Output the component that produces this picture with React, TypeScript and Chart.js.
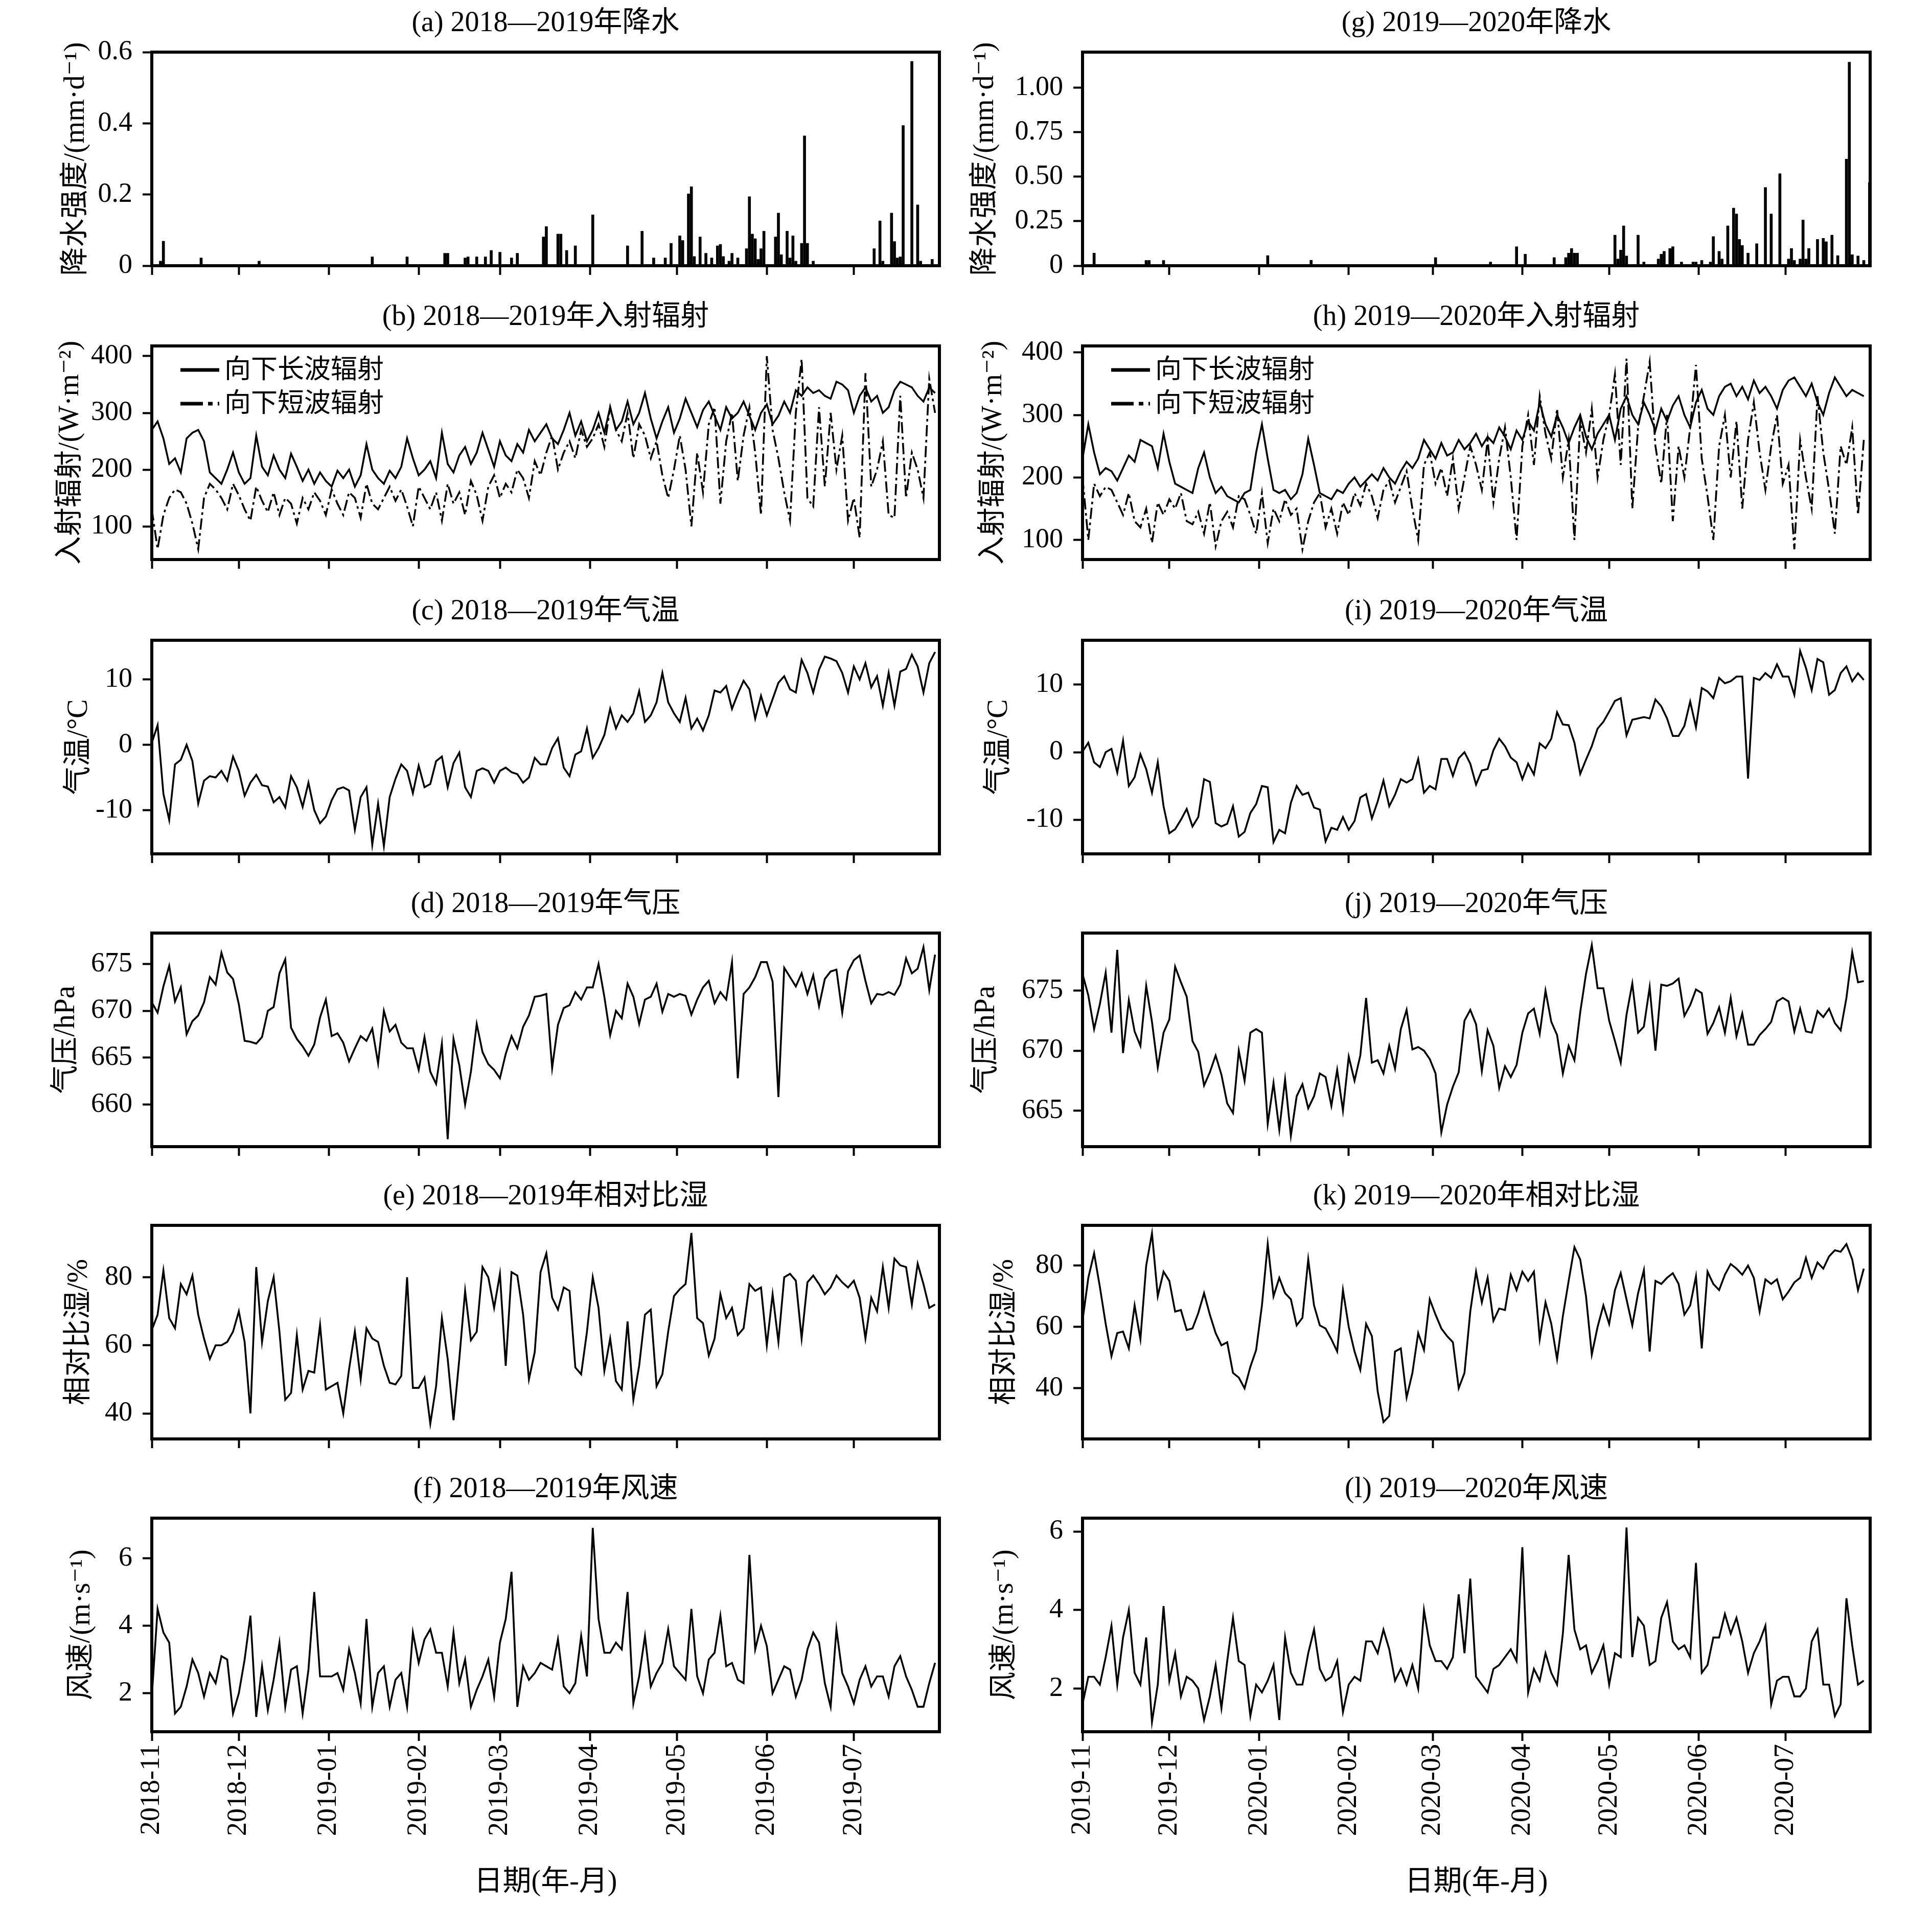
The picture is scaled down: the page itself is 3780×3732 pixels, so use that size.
import React, { useEffect, useRef } from 'react';
import { Chart, registerables } from 'chart.js';

Chart.register(...registerables);

const FONT = "'Liberation Serif', 'DejaVu Serif', 'Noto Sans CJK SC', serif";
const DAY_STEP = 2;

// month ticks (day index from 1 Nov)
const MONTH_TICKS_1 = [0, 30, 61, 92, 120, 151, 181, 212, 242];
const MONTH_LABELS_1 = ['2018-11', '2018-12', '2019-01', '2019-02', '2019-03', '2019-04', '2019-05', '2019-06', '2019-07'];
const MONTH_TICKS_2 = [0, 30, 61, 92, 121, 152, 182, 213, 243];
const MONTH_LABELS_2 = ['2019-11', '2019-12', '2020-01', '2020-02', '2020-03', '2020-04', '2020-05', '2020-06', '2020-07'];

// ---- precipitation (sparse daily bars) ----
const PRECIP_A_DAYS = [3, 4, 17, 37, 76, 88, 101, 102, 108, 109, 112, 115, 117, 120, 124, 126, 135, 136, 140, 141, 143, 146, 152, 164, 169, 173, 177, 179, 182, 183, 185, 186, 187, 189, 191, 193, 195, 196, 197, 199, 200, 202, 205, 206, 207, 208, 209, 210, 211, 215, 216, 217, 219, 220, 221, 222, 224, 225, 226, 228, 249, 251, 252, 255, 256, 257, 258, 259, 262, 264, 265, 269];
const PRECIP_A_VALUES = [0.013, 0.069, 0.022, 0.013, 0.025, 0.025, 0.035, 0.035, 0.022, 0.025, 0.025, 0.025, 0.043, 0.038, 0.022, 0.035, 0.081, 0.110, 0.089, 0.089, 0.043, 0.056, 0.143, 0.056, 0.097, 0.022, 0.022, 0.063, 0.084, 0.071, 0.202, 0.222, 0.026, 0.081, 0.035, 0.022, 0.056, 0.060, 0.026, 0.013, 0.035, 0.022, 0.048, 0.194, 0.089, 0.076, 0.018, 0.048, 0.097, 0.081, 0.148, 0.031, 0.097, 0.022, 0.084, 0.013, 0.063, 0.365, 0.063, 0.013, 0.048, 0.126, 0.013, 0.148, 0.068, 0.022, 0.025, 0.394, 0.574, 0.171, 0.013, 0.018];

const PRECIP_G_DAYS = [4, 22, 23, 28, 64, 79, 122, 141, 150, 153, 163, 167, 168, 169, 170, 171, 184, 185, 186, 187, 188, 192, 194, 199, 200, 201, 203, 204, 207, 211, 212, 214, 217, 218, 220, 221, 223, 225, 226, 227, 228, 230, 233, 236, 238, 241, 244, 245, 246, 248, 249, 250, 251, 254, 256, 257, 259, 261, 264, 265, 266, 268, 270, 272];
const PRECIP_G_VALUES = [0.071, 0.03, 0.03, 0.03, 0.057, 0.031, 0.046, 0.021, 0.107, 0.065, 0.046, 0.046, 0.071, 0.097, 0.071, 0.071, 0.172, 0.038, 0.088, 0.224, 0.055, 0.172, 0.021, 0.038, 0.065, 0.081, 0.097, 0.107, 0.021, 0.021, 0.021, 0.03, 0.021, 0.164, 0.081, 0.038, 0.224, 0.324, 0.291, 0.148, 0.114, 0.071, 0.124, 0.44, 0.291, 0.517, 0.038, 0.097, 0.03, 0.038, 0.257, 0.038, 0.097, 0.148, 0.154, 0.135, 0.172, 0.057, 0.599, 1.144, 0.062, 0.055, 0.03, 0.467];

// ---- radiation (W m-2), every 2 days ----
const LW_2018 = [270, 285, 255, 210, 220, 195, 255, 265, 270, 250, 195, 185, 175, 200, 230, 195, 175, 185, 260, 205, 190, 225, 200, 185, 228, 205, 180, 200, 175, 195, 180, 170, 198, 185, 200, 170, 190, 245, 200, 185, 175, 198, 185, 205, 255, 220, 190, 200, 215, 185, 265, 210, 195, 225, 240, 210, 230, 265, 235, 205, 250, 225, 215, 245, 230, 270, 250, 265, 280, 255, 245, 270, 300, 260, 285, 250, 270, 300, 265, 310, 270, 285, 320, 280, 300, 335, 290, 255, 285, 310, 265, 290, 325, 300, 275, 305, 320, 295, 270, 310, 290, 300, 320, 295, 270, 300, 315, 280, 295, 320, 300, 340, 330, 345, 335, 340, 330, 325, 355, 350, 340, 300, 330, 345, 320, 330, 300, 310, 340, 355, 350, 345, 330, 320, 345, 335];
const SW_2018 = [130, 60, 120, 150, 165, 160, 140, 105, 60, 150, 175, 165, 150, 130, 175, 155, 130, 110, 170, 145, 125, 160, 120, 150, 140, 105, 150, 130, 160, 145, 120, 165, 140, 120, 160, 150, 115, 175, 140, 130, 150, 170, 145, 165, 135, 100, 170, 150, 130, 160, 110, 175, 140, 160, 120, 180, 155, 110, 170, 190, 150, 175, 160, 200, 185, 150, 215, 190, 230, 260, 200, 230, 250, 220, 270, 240, 255, 280, 240, 310, 270, 250, 300, 220, 280, 260, 220, 250, 190, 150, 200, 260, 200, 100, 230, 160, 280, 310, 140, 250, 300, 180, 260, 310, 230, 120, 400, 270, 220, 160, 110, 300, 395, 150, 135, 310, 170, 300, 200, 260, 110, 150, 80, 370, 170, 200, 250, 120, 115, 330, 150, 230, 200, 150, 360, 300];
const LW_2019 = [230, 285, 240, 205, 215, 210, 195, 215, 235, 225, 260, 255, 250, 215, 270, 225, 190, 185, 180, 175, 215, 240, 200, 175, 185, 170, 165, 160, 175, 180, 240, 285, 230, 180, 175, 180, 165, 175, 205, 262, 220, 175, 170, 165, 180, 175, 190, 200, 185, 195, 205, 195, 215, 200, 190, 210, 225, 215, 230, 260, 245, 230, 255, 235, 240, 260, 245, 255, 270, 250, 265, 255, 280, 265, 245, 275, 260, 290, 275, 320, 285, 265, 300, 280, 255, 280, 300, 265, 245, 270, 285, 300, 260, 310, 330, 300, 285, 320, 300, 275, 310, 290, 315, 330, 300, 280, 320, 340, 310, 300, 330, 345, 350, 330, 345, 325, 355, 335, 345, 330, 310, 340, 355, 360, 345, 330, 350, 320, 300, 335, 360, 345, 330, 340, 335, 330];
const SW_2019 = [200, 100, 190, 170, 185, 180, 160, 140, 175, 130, 120, 150, 95, 160, 140, 165, 150, 175, 130, 125, 145, 110, 160, 90, 130, 145, 120, 170, 165, 140, 110, 175, 95, 150, 130, 165, 140, 150, 85, 130, 160, 175, 120, 150, 110, 160, 140, 175, 155, 190, 170, 135, 180, 195, 160, 185, 210, 150, 100, 220, 240, 190, 215, 170, 230, 150, 200, 250, 220, 180, 260, 160, 230, 280, 200, 100, 250, 300, 220, 330, 270, 230, 310, 200, 260, 100, 290, 240, 310, 200, 260, 300, 365, 220, 390, 150, 280, 330, 385, 250, 190, 300, 130, 250, 200, 280, 380, 230, 170, 100, 250, 300, 200, 290, 150, 260, 320, 240, 180, 250, 300, 190, 220, 85, 260, 200, 150, 330, 240, 180, 110, 250, 220, 280, 140, 260];

// ---- air temperature (°C), every 2 days ----
const TEMP_2018 = [0.3, 3, -7.5, -11.5, -3, -2.3, 0, -2.5, -9, -5.5, -4.8, -5, -4, -5.5, -1.8, -4, -7.8, -5.8, -4.6, -6.2, -6.4, -8.8, -8, -9.6, -4.8, -6.5, -9.5, -5.8, -10, -12, -11, -8.5, -6.8, -6.5, -7, -13, -8, -6.5, -15.3, -9, -15.5, -8, -5.2, -3, -4, -7.4, -3.2, -6.5, -6, -2.5, -1.8, -6.5, -2.8, -1.2, -6.5, -8, -4, -3.6, -4, -5.8, -4, -3.5, -4.2, -4.5, -5.8, -5, -2, -3, -3, -0.5, 1, -3.5, -4.8, -1.5, -1, 2.5, -2, -0.5, 1.5, 5.5, 2.5, 4.5, 3.5, 4.8, 8.2, 3.5, 4.5, 6.5, 11, 6.5, 4.8, 3.5, 7.2, 2.5, 4, 2.2, 4.5, 8.3, 8, 9, 5.5, 7.8, 9.8, 8.5, 4, 7.5, 4.5, 7, 9.5, 10.5, 8.5, 8, 13, 11, 8, 11.5, 13.5, 13.2, 12.8, 11, 8, 12, 10, 12.5, 8.8, 10.5, 6, 11, 6, 11.2, 11.6, 13.8, 12, 8, 12.5, 14.2];
const TEMP_2019 = [0.1, 1.4, -1.5, -2.2, 0, 0.5, -3, 1.7, -5, -3.7, -0.3, -2.5, -6, -1.5, -8, -12, -11.4, -10, -8.4, -11, -9.6, -4, -4.4, -10.5, -11, -10.6, -8, -12.5, -11.8, -9, -7.7, -5, -5.2, -13.3, -11.5, -12, -7.5, -5, -6.3, -6, -8.2, -8.5, -13.2, -11.2, -11.5, -9.6, -11.5, -10.2, -6.7, -6.2, -9.8, -7.3, -4.2, -8, -6.3, -4, -4.5, -4, -1, -6, -5, -5.5, -1, -1, -3.5, -0.9, 0, -1.7, -4.8, -2.7, -2.5, 0.3, 2, 0.9, -0.8, -1.5, -4, -1.7, -3.3, 1.3, 0.6, 2, 5.9, 4.1, 4, 1.4, -3.2, -1.1, 0.9, 3.5, 4.5, 6, 7.6, 8, 2.5, 4.8, 5, 5.2, 5, 7.8, 6.8, 5, 2.4, 2.4, 3.9, 7.5, 3.7, 9.5, 9, 8, 11, 10.2, 10.5, 11.2, 11.2, -3.9, 11, 10.7, 11.7, 11, 13, 11.2, 11.2, 8.5, 15, 12.5, 9.2, 13.8, 13.3, 8.5, 9.2, 11.7, 12.7, 10.5, 11.7, 10.7];

// ---- air pressure (hPa), every 2 days ----
const PRES_2018 = [670.9, 669.8, 672.6, 674.8, 671, 672.5, 667.5, 668.9, 669.5, 670.9, 673.6, 672.8, 676.2, 674.1, 673.4, 670.7, 666.8, 666.7, 666.5, 667.2, 670, 670.4, 674, 675.5, 668.2, 667, 666.2, 665.2, 666.4, 669.3, 671.2, 667.3, 667.6, 666.6, 664.6, 666, 667.3, 666.8, 668.1, 664.4, 670, 667.8, 668.5, 666.6, 666, 666, 663.7, 667.2, 663.5, 662.2, 666.5, 656.3, 667, 664.2, 660, 663.5, 668.6, 665.6, 664.3, 663.7, 662.8, 665.4, 667.3, 666, 668.3, 669.5, 671.5, 671.6, 671.8, 663.9, 668.5, 670.3, 670.6, 672, 671.2, 672.5, 672.5, 675, 671.5, 667.4, 670, 669.2, 672.9, 671.5, 668.6, 671.2, 671.5, 672.9, 669.9, 671.8, 671.5, 671.8, 671.6, 669.6, 671.2, 672.5, 673.2, 670.8, 672, 671.2, 675.2, 662.8, 671.8, 672.5, 673.6, 675.2, 675.2, 673.1, 660.8, 674.6, 673.6, 672.6, 674, 671.8, 673.8, 670.5, 673.4, 674.2, 674.4, 669.8, 674.2, 675.4, 675.9, 673.2, 670.8, 671.8, 671.7, 672, 671.7, 672.8, 675.6, 674, 674.5, 676.8, 672.2, 676];
const PRES_2019 = [676.4, 674.6, 671.8, 673.9, 676.5, 671.5, 678.4, 669.8, 674.2, 671.6, 670.4, 675.4, 672.4, 668.6, 671.5, 672.6, 677, 675.7, 674.5, 670.8, 669.9, 667.1, 668.2, 669.6, 668, 665.6, 664.8, 670, 667.5, 671.5, 671.8, 671.5, 663.9, 667.3, 663.4, 667.6, 662.9, 666.2, 667.2, 665.2, 666.2, 668.1, 667.8, 665.4, 668.4, 665, 669.5, 667.5, 669.6, 674.4, 669, 669.2, 668.1, 670.4, 668.5, 671.8, 673.4, 670.1, 670.3, 670, 669.3, 668.1, 663.2, 665.5, 667, 668.2, 672.5, 673.4, 672.2, 668.3, 671.7, 670.4, 666.9, 668.7, 667.8, 668.8, 671.5, 673.1, 673.5, 671.4, 675, 672.4, 671.3, 668.1, 670.4, 669.2, 673.2, 676.4, 678.8, 675.2, 675.2, 672.5, 670.8, 669, 673, 675.6, 671.5, 672, 675.3, 670, 675.5, 675.4, 675.6, 676, 672.9, 673.8, 675.1, 674.8, 671.4, 672.3, 673.6, 671.5, 674.4, 671.2, 673.1, 670.5, 670.5, 671.3, 671.8, 672.4, 674.1, 674.4, 674.1, 671.6, 673.5, 671.6, 671.5, 673.3, 672.8, 673.5, 672.3, 671.7, 674.4, 678.2, 675.7, 675.8];

// ---- relative humidity (%), every 2 days ----
const RH_2018 = [64.5, 69, 82, 68, 65, 78, 75, 80.5, 69, 62, 56, 60, 60, 61, 64, 70, 61, 40, 83, 61, 73, 80, 64, 44, 46, 63, 47, 52.5, 52, 66, 47, 48, 49, 40, 53, 64, 50, 65, 62, 61, 54, 49, 48.5, 51, 80, 47.5, 47.5, 50.5, 37, 48, 68, 56, 38, 56, 76, 61.5, 64, 83, 80, 71, 81, 54, 81.5, 80.5, 69, 50, 58, 81.5, 87, 74, 70.5, 77, 76, 53.5, 51.5, 64, 80, 71, 52.5, 62, 49.5, 47, 67, 44, 54, 69, 70.5, 48, 51.5, 64, 74.5, 76.5, 78, 93, 68, 66.5, 57, 62, 75, 68, 71, 63, 65, 78, 76, 77, 60, 75, 61, 80, 81, 79, 62, 78.5, 80.5, 78, 75, 77, 80.5, 78.5, 77, 79, 74, 62, 74, 70, 83, 71, 85.5, 83.5, 83, 72, 84, 78, 71, 72];
const RH_2019 = [62, 76, 84, 73, 61, 50.5, 58, 58.5, 53, 67, 56, 80, 90.5, 70, 78, 75, 65, 65.5, 59, 59.5, 64.5, 71, 64, 58, 54, 55, 45, 43.5, 40, 47, 52.5, 67, 87, 70, 76, 71, 69, 60.5, 63, 82, 67, 60.5, 59.5, 56, 52, 72, 60, 52, 46, 61, 57, 39, 29, 31, 52, 53, 37, 45, 58, 52.5, 69, 64, 59.5, 57, 55, 40, 45, 65, 78, 68, 76, 62, 66, 65.5, 77, 72, 78, 75, 78, 56, 68, 61, 49.5, 63.5, 75, 86, 82, 70, 51, 60, 67, 61, 72, 77.5, 69, 60.5, 71, 78.5, 52, 75, 74, 76, 77.5, 74, 64, 67, 76.5, 53, 78, 74, 72, 77, 80.5, 79, 77, 80, 76, 65, 75.5, 74, 75.5, 69, 71.5, 74.5, 76, 82.5, 76, 81, 79, 83, 85, 84.5, 87, 82, 72, 79];

// ---- wind speed (m/s), every 2 days ----
const WIND_2018 = [1.9, 4.5, 3.8, 3.5, 1.4, 1.6, 2.2, 3, 2.6, 1.9, 2.6, 2.3, 3.1, 3, 1.4, 2, 3, 4.3, 1.3, 2.8, 1.5, 2.4, 3.5, 1.6, 2.7, 2.8, 1.4, 2.7, 5.0, 2.5, 2.5, 2.5, 2.6, 2.1, 3.3, 2.6, 1.7, 4.2, 1.6, 2.6, 2.8, 1.6, 2.4, 2.6, 1.6, 3.8, 2.9, 3.6, 3.9, 3.2, 3.2, 2.2, 3.8, 2.3, 3, 1.6, 2.1, 2.5, 3, 1.9, 3.5, 4.2, 5.6, 1.6, 2.8, 2.4, 2.6, 2.9, 2.8, 2.7, 3.6, 2.2, 2, 2.3, 3.7, 2.5, 6.9, 4.2, 3.2, 3.2, 3.5, 3.3, 5.0, 1.7, 2.5, 3.7, 2.2, 2.6, 2.9, 3.9, 2.8, 2.6, 2.4, 4.5, 2.5, 2, 3, 3.2, 4.3, 2.8, 2.9, 2.4, 2.3, 6.1, 3.3, 4, 3.4, 2, 2.4, 2.8, 2.7, 1.9, 2.4, 3.3, 3.8, 3.5, 2.3, 1.6, 3.9, 2.6, 2.2, 1.7, 2.4, 2.8, 2.2, 2.5, 2.5, 1.9, 2.8, 3.1, 2.5, 2.1, 1.6, 1.6, 2.3, 2.9];
const WIND_2019 = [1.6, 2.3, 2.3, 2.1, 2.8, 3.6, 2.1, 3.3, 4.0, 2.4, 2.1, 3.3, 1.15, 2.1, 4.1, 2.2, 2.9, 1.8, 2.3, 2.2, 2, 1.2, 1.8, 2.6, 1.5, 2.7, 3.8, 2.7, 2.6, 1.3, 2.1, 1.9, 2.2, 2.6, 1.2, 3.3, 2.4, 2.1, 2.1, 2.9, 3.5, 2.5, 2.2, 2.3, 2.7, 1.4, 2.1, 2.3, 2.2, 3.2, 3.2, 2.9, 3.5, 3, 2.2, 2.5, 2.1, 2.6, 2, 4.0, 3.1, 2.7, 2.7, 2.5, 2.8, 4.4, 2.9, 4.8, 2.3, 2.1, 1.9, 2.5, 2.6, 2.8, 3, 2.7, 5.6, 1.9, 2.5, 2.2, 2.9, 2.4, 2.1, 3.4, 5.4, 3.5, 3, 3.1, 2.4, 2.7, 3.1, 2.1, 2.9, 2.8, 6.1, 2.8, 3.8, 3.6, 2.6, 2.7, 3.8, 4.2, 3.2, 3, 3.1, 2.8, 5.2, 2.4, 2.6, 3.3, 3.3, 3.9, 3.4, 3.8, 3.2, 2.4, 2.9, 3.2, 3.6, 1.6, 2.2, 2.3, 2.3, 1.8, 1.8, 2, 3.2, 3.5, 2.1, 2.1, 1.3, 1.6, 4.3, 3.1, 2.1, 2.2];

// ---- layout ----
const COLS = [
  { canvasLeft: 0, width: 1880, plotLeft: 297, plotRight: 1838, xMax: 271.5, ticks: MONTH_TICKS_1, labels: MONTH_LABELS_1 },
  { canvasLeft: 1880, width: 1900, plotLeft: 2118, plotRight: 3659, xMax: 272.2, ticks: MONTH_TICKS_2, labels: MONTH_LABELS_2 },
];
const ROW_TOPS = [102, 677, 1253, 1826, 2398, 2971];
const PLOT_H = 418;
const PAD_TOP = 100;
const TICK_LEN = 18;

type Series = { values: number[]; dash?: number[] };
type PanelCfg = {
  key: string; col: number; row: number; title: string; yLabel: string; yLabelX: number;
  yMin: number; yMax: number; yTicks: number[]; yTickLabels: string[];
  bars?: { days: number[]; values: number[] }; series?: Series[]; legend?: string[];
};

const DASHDOT = [22, 7, 5, 7];

const PANELS: PanelCfg[] = [
  { key: 'a', col: 0, row: 0, title: '(a) 2018—2019年降水', yLabel: '降水强度/(mm·d⁻¹)', yLabelX: 149, yMin: 0, yMax: 0.6, yTicks: [0, 0.2, 0.4, 0.6], yTickLabels: ['0', '0.2', '0.4', '0.6'], bars: { days: PRECIP_A_DAYS, values: PRECIP_A_VALUES } },
  { key: 'b', col: 0, row: 1, title: '(b) 2018—2019年入射辐射', yLabel: '入射辐射/(W·m⁻²)', yLabelX: 138, yMin: 41.5, yMax: 418, yTicks: [100, 200, 300, 400], yTickLabels: ['100', '200', '300', '400'], series: [{ values: LW_2018 }, { values: SW_2018, dash: DASHDOT }], legend: ['向下长波辐射', '向下短波辐射'] },
  { key: 'c', col: 0, row: 2, title: '(c) 2018—2019年气温', yLabel: '气温/°C', yLabelX: 155, yMin: -16.7, yMax: 16.0, yTicks: [-10, 0, 10], yTickLabels: ['-10', '0', '10'], series: [{ values: TEMP_2018 }] },
  { key: 'd', col: 0, row: 3, title: '(d) 2018—2019年气压', yLabel: '气压/hPa', yLabelX: 130, yMin: 655.5, yMax: 678.3, yTicks: [660, 665, 670, 675], yTickLabels: ['660', '665', '670', '675'], series: [{ values: PRES_2018 }] },
  { key: 'e', col: 0, row: 4, title: '(e) 2018—2019年相对比湿', yLabel: '相对比湿/%', yLabelX: 155, yMin: 32.5, yMax: 95.25, yTicks: [40, 60, 80], yTickLabels: ['40', '60', '80'], series: [{ values: RH_2018 }] },
  { key: 'f', col: 0, row: 5, title: '(f) 2018—2019年风速', yLabel: '风速/(m·s⁻¹)', yLabelX: 160, yMin: 0.86, yMax: 7.19, yTicks: [2, 4, 6], yTickLabels: ['2', '4', '6'], series: [{ values: WIND_2018 }] },
  { key: 'g', col: 1, row: 0, title: '(g) 2019—2020年降水', yLabel: '降水强度/(mm·d⁻¹)', yLabelX: 1928, yMin: 0, yMax: 1.2, yTicks: [0, 0.25, 0.5, 0.75, 1.0], yTickLabels: ['0', '0.25', '0.50', '0.75', '1.00'], bars: { days: PRECIP_G_DAYS, values: PRECIP_G_VALUES } },
  { key: 'h', col: 1, row: 1, title: '(h) 2019—2020年入射辐射', yLabel: '入射辐射/(W·m⁻²)', yLabelX: 1944, yMin: 68.6, yMax: 410.4, yTicks: [100, 200, 300, 400], yTickLabels: ['100', '200', '300', '400'], series: [{ values: LW_2019 }, { values: SW_2019, dash: DASHDOT }], legend: ['向下长波辐射', '向下短波辐射'] },
  { key: 'i', col: 1, row: 2, title: '(i) 2019—2020年气温', yLabel: '气温/°C', yLabelX: 1955, yMin: -15.05, yMax: 16.57, yTicks: [-10, 0, 10], yTickLabels: ['-10', '0', '10'], series: [{ values: TEMP_2019 }] },
  { key: 'j', col: 1, row: 3, title: '(j) 2019—2020年气压', yLabel: '气压/hPa', yLabelX: 1930, yMin: 662.0, yMax: 679.8, yTicks: [665, 670, 675], yTickLabels: ['665', '670', '675'], series: [{ values: PRES_2019 }] },
  { key: 'k', col: 1, row: 4, title: '(k) 2019—2020年相对比湿', yLabel: '相对比湿/%', yLabelX: 1966, yMin: 23.5, yMax: 93.1, yTicks: [40, 60, 80], yTickLabels: ['40', '60', '80'], series: [{ values: RH_2019 }] },
  { key: 'l', col: 1, row: 5, title: '(l) 2019—2020年风速', yLabel: '风速/(m·s⁻¹)', yLabelX: 1966, yMin: 0.9, yMax: 6.34, yTicks: [2, 4, 6], yTickLabels: ['2', '4', '6'], series: [{ values: WIND_2019 }] },
];

function geometry(p: PanelCfg) {
  const c = COLS[p.col];
  const isBottom = p.row === 5;
  const xh = isBottom ? 344 : 40;
  const top = ROW_TOPS[p.row] - PAD_TOP;
  const height = PAD_TOP + PLOT_H + xh;
  return { left: c.canvasLeft, top, width: c.width, height, xh, isBottom, c };
}

function decorPlugin(p: PanelCfg, isBottom: boolean, canvasLeft: number) {
  return {
    id: 'decor_' + p.key,
    afterDraw(chart: any) {
      const ctx = chart.ctx;
      const a = chart.chartArea;
      ctx.save();
      ctx.strokeStyle = '#000';
      ctx.lineWidth = 6;
      ctx.setLineDash([]);
      ctx.strokeRect(a.left, a.top, a.right - a.left, a.bottom - a.top);
      ctx.fillStyle = '#000';
      ctx.textAlign = 'center';
      ctx.textBaseline = 'middle';
      ctx.font = `56px ${FONT}`;
      const cx = (a.left + a.right) / 2;
      ctx.fillText(p.title, cx, a.top - 56);
      // y label
      ctx.save();
      ctx.translate(p.yLabelX - canvasLeft, (a.top + a.bottom) / 2);
      ctx.rotate(-Math.PI / 2);
      ctx.fillText(p.yLabel, 0, 0);
      ctx.restore();
      // legend
      if (p.legend) {
        ctx.font = `52px ${FONT}`;
        ctx.textAlign = 'left';
        const rows = [a.top + 47, a.top + 113];
        p.legend.forEach((txt, i) => {
          ctx.beginPath();
          ctx.lineWidth = 7;
          ctx.setLineDash(i === 0 ? [] : [44, 10, 9, 10]);
          ctx.moveTo(a.left + 56, rows[i]);
          ctx.lineTo(a.left + 132, rows[i]);
          ctx.stroke();
          ctx.setLineDash([]);
          ctx.fillText(txt, a.left + 142, rows[i] + 2);
        });
      }
      if (isBottom) {
        ctx.font = `56px ${FONT}`;
        ctx.textAlign = 'center';
        ctx.fillText('日期(年-月)', cx, a.bottom + 295);
      }
      ctx.restore();
    },
  };
}

function buildConfig(p: PanelCfg) {
  const g = geometry(p);
  const c = g.c;
  const tickFont = { family: FONT, size: 54 };
  const datasets: any[] = [];
  if (p.bars) {
    datasets.push({
      type: 'bar',
      data: p.bars.days.map((d, i) => ({ x: d, y: p.bars!.values[i] })),
      backgroundColor: '#000',
      borderWidth: 0,
      barThickness: 5,
    });
  }
  if (p.series) {
    p.series.forEach((s) => {
      datasets.push({
        type: 'line',
        data: s.values.map((v, i) => ({ x: i * DAY_STEP, y: v })),
        borderColor: '#000',
        borderWidth: 3.6,
        borderDash: s.dash || [],
        borderJoinStyle: 'miter',
        pointRadius: 0,
        fill: false,
        tension: 0,
      });
    });
  }
  const gridOpts = { drawOnChartArea: false, drawTicks: true, tickLength: TICK_LEN, tickWidth: 4, tickColor: '#000', color: '#000', offset: false };
  return {
    type: p.bars ? 'bar' : 'line',
    data: { datasets },
    options: {
      responsive: false,
      animation: false,
      devicePixelRatio: 1,
      events: [],
      layout: { padding: { top: PAD_TOP, right: c.canvasLeft + c.width - c.plotRight, bottom: 0, left: 0 } },
      plugins: { legend: { display: false }, tooltip: { enabled: false }, title: { display: false } },
      scales: {
        x: {
          type: 'linear',
          min: 0,
          max: c.xMax,
          offset: false,
          grid: gridOpts,
          border: { display: false },
          ticks: {
            display: g.isBottom,
            autoSkip: false,
            minRotation: 90,
            maxRotation: 90,
            padding: 6,
            color: '#000',
            font: tickFont,
            callback: (v: number) => {
              const i = c.ticks.indexOf(v);
              return i >= 0 ? c.labels[i] : '';
            },
          },
          afterBuildTicks: (s: any) => { s.ticks = c.ticks.map((v) => ({ value: v })); },
          afterFit: (s: any) => { s.height = g.xh; s.paddingLeft = 0; s.paddingRight = 0; },
        },
        y: {
          type: 'linear',
          min: p.yMin,
          max: p.yMax,
          grid: gridOpts,
          border: { display: false },
          ticks: {
            color: '#000',
            font: tickFont,
            padding: 20,
            callback: (v: number) => {
              const i = p.yTicks.indexOf(v);
              return i >= 0 ? p.yTickLabels[i] : '';
            },
          },
          afterBuildTicks: (s: any) => { s.ticks = p.yTicks.map((v) => ({ value: v })); },
          afterFit: (s: any) => { s.width = c.plotLeft - c.canvasLeft; s.paddingTop = 0; s.paddingBottom = 0; },
        },
      },
    },
    plugins: [decorPlugin(p, g.isBottom, c.canvasLeft)],
  };
}

function Panel({ cfg }: { cfg: PanelCfg }) {
  const ref = useRef<HTMLCanvasElement>(null);
  const g = geometry(cfg);
  useEffect(() => {
    const chart = new Chart(ref.current as HTMLCanvasElement, buildConfig(cfg) as any);
    return () => chart.destroy();
  }, []);
  return (
    <canvas
      ref={ref}
      width={g.width}
      height={g.height}
      style={{ position: 'absolute', left: g.left, top: g.top, width: g.width, height: g.height }}
    />
  );
}

export default function App() {
  return (
    <div style={{ position: 'absolute', left: 0, top: 0, width: 3780, height: 3732, background: '#fff', overflow: 'hidden' }}>
      {PANELS.map((p) => (
        <Panel key={p.key} cfg={p} />
      ))}
    </div>
  );
}
